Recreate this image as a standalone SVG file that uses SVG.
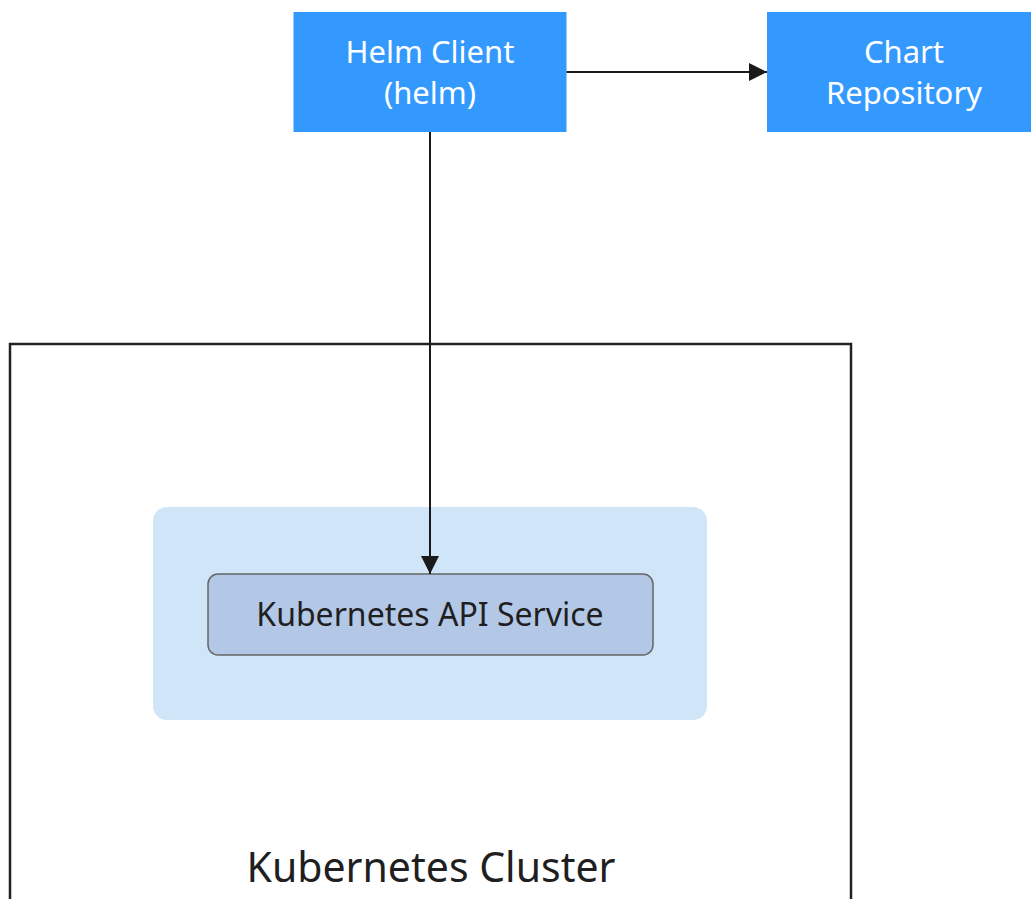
<svg xmlns="http://www.w3.org/2000/svg" width="1031" height="899" viewBox="0 0 1031 899">
<defs>
<style>
.blue{fill:#3399ff}
.wt{fill:#ffffff;font-family:"Noto Sans","Open Sans",sans-serif;font-size:31px;text-anchor:middle}
.dk{fill:#1f1f1f;font-family:"Noto Sans","Open Sans",sans-serif;text-anchor:middle}
.ln{stroke:#1a1a1a;stroke-width:2;fill:none}
</style>
<marker id="arr" viewBox="0 0 10 10" refX="10" refY="5" markerWidth="18" markerHeight="18" markerUnits="userSpaceOnUse" orient="auto">
<path d="M0,0 L10,5 L0,10 z" fill="#1a1a1a"/>
</marker>
</defs>
<rect width="1031" height="899" fill="#ffffff"/>
<g id="cluster">
<rect x="10" y="344" width="841" height="580" fill="none" stroke="#222222" stroke-width="2.5"/>
<text class="dk" x="431" y="882" font-size="41">Kubernetes Cluster</text>
</g>
<g id="control-plane">
<rect x="153" y="507" width="554" height="213" rx="14" fill="#d1e5f8"/>
</g>
<g id="api-service">
<rect x="208" y="574" width="445" height="81" rx="10" fill="#b3c7e6" stroke="#666666" stroke-width="1.5"/>
<text class="dk" x="430" y="626" font-size="32">Kubernetes API Service</text>
</g>
<g id="helm-client">
<rect class="blue" x="293.5" y="12" width="273" height="120"/>
<text class="wt" x="430" y="63">Helm Client</text>
<text class="wt" x="430" y="104">(helm)</text>
</g>
<g id="chart-repository">
<rect class="blue" x="767" y="12" width="274" height="120"/>
<text class="wt" x="904" y="63">Chart</text>
<text class="wt" x="904" y="104">Repository</text>
</g>
<g id="connectors">
<line class="ln" x1="566.5" y1="72" x2="767" y2="72" marker-end="url(#arr)"/>
<line class="ln" x1="430" y1="132" x2="430" y2="574" marker-end="url(#arr)"/>
</g>
</svg>
